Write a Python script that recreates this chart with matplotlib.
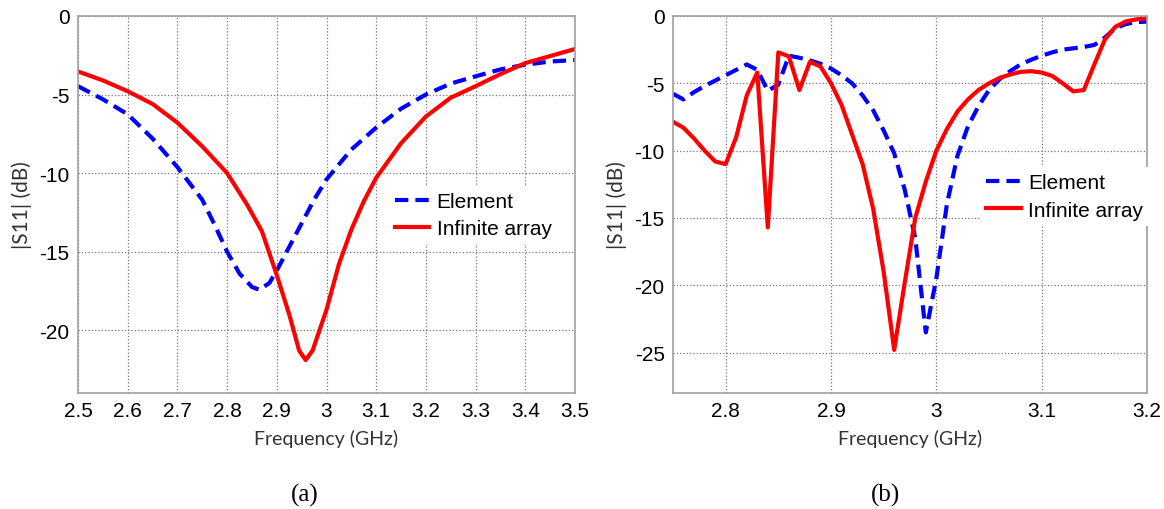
import matplotlib
matplotlib.use("Agg")
import matplotlib.pyplot as plt
from matplotlib.ticker import FormatStrFormatter
import numpy as np

plt.rcParams['axes.unicode_minus'] = False

# ---- panel (a): element vs infinite array, wide band ----
freq_a_elem = [2.5, 2.55, 2.6, 2.65, 2.7, 2.75, 2.775, 2.8, 2.825, 2.85, 2.865,
               2.885, 2.9, 2.925, 2.95, 2.975, 3.0, 3.05, 3.1, 3.15, 3.2, 3.25,
               3.3, 3.35, 3.4, 3.45, 3.5]
s11_a_elem = [-4.47, -5.3, -6.26, -7.8, -9.62, -11.7, -13.3, -15.0, -16.4, -17.25,
              -17.43, -17.0, -16.2, -14.7, -13.2, -11.7, -10.4, -8.5, -7.1, -5.9,
              -5.0, -4.3, -3.84, -3.4, -3.1, -2.9, -2.8]

freq_a_arr = [2.5, 2.55, 2.6, 2.65, 2.7, 2.75, 2.8, 2.84, 2.87, 2.9, 2.925, 2.945,
              2.958, 2.972, 3.0, 3.025, 3.05, 3.075, 3.1, 3.15, 3.2, 3.25, 3.3,
              3.35, 3.4, 3.45, 3.5]
s11_a_arr = [-3.53, -4.1, -4.79, -5.6, -6.79, -8.3, -10.0, -12.0, -13.7, -16.5,
             -19.0, -21.3, -21.9, -21.3, -18.7, -15.8, -13.6, -11.8, -10.3, -8.1,
             -6.4, -5.2, -4.47, -3.7, -3.0, -2.55, -2.1]

# ---- panel (b): narrower band ----
freq_b = [2.75, 2.76, 2.77, 2.78, 2.79, 2.80, 2.81, 2.82, 2.83, 2.84, 2.85, 2.86,
          2.87, 2.88, 2.89, 2.90, 2.91, 2.92, 2.93, 2.94, 2.95, 2.96, 2.97, 2.98,
          2.99, 3.00, 3.01, 3.02, 3.03, 3.04, 3.05, 3.06, 3.07, 3.08, 3.09, 3.10,
          3.11, 3.12, 3.13, 3.14, 3.15, 3.16, 3.17, 3.18, 3.19, 3.20]
s11_b_elem = [-5.78, -6.2, -5.65, -5.2, -4.8, -4.4, -4.0, -3.6, -4.0, -5.55, -5.1,
              -2.95, -3.1, -3.3, -3.55, -3.9, -4.4, -5.0, -5.9, -7.0, -8.5, -10.2,
              -12.9, -16.5, -23.5, -19.5, -14.0, -10.4, -8.2, -6.7, -5.5, -4.7,
              -4.1, -3.6, -3.25, -2.95, -2.7, -2.5, -2.4, -2.3, -2.15, -1.6, -0.9,
              -0.6, -0.45, -0.42]
s11_b_arr = [-7.86, -8.3, -9.1, -10.0, -10.8, -11.0, -9.0, -5.9, -4.2, -15.7, -2.7,
             -3.0, -5.5, -3.4, -3.75, -5.0, -6.6, -8.8, -11.0, -14.3, -19.0, -24.8,
             -19.8, -15.0, -12.3, -10.0, -8.4, -7.1, -6.2, -5.5, -5.0, -4.6, -4.35,
             -4.15, -4.1, -4.2, -4.45, -5.0, -5.6, -5.5, -3.6, -1.75, -0.8, -0.4,
             -0.25, -0.17]

xticks_a = [2.5, 2.6, 2.7, 2.8, 2.9, 3.0, 3.1, 3.2, 3.3, 3.4, 3.5]
yticks_a = [0, -5, -10, -15, -20]
xticks_b = [2.8, 2.9, 3.0, 3.1, 3.2]
yticks_b = [0, -5, -10, -15, -20, -25]

W, H = 1164, 510
fig = plt.figure(figsize=(W / 100, H / 100), dpi=100)

xlabel_font = {'family': 'Lato', 'size': 14, 'color': '#333333'}
ylabel_font = {'family': 'Lato', 'size': 15, 'color': '#333333'}


def style_axes(ax, xlim, ylim, xticks, yticks):
    ax.set_xlim(xlim)
    ax.set_ylim(ylim)
    ax.set_xticks(xticks)
    ax.set_yticks(yticks)
    ax.xaxis.set_major_formatter(FormatStrFormatter('%g'))
    ax.grid(True, linestyle=':', color='#777777', linewidth=0.9)
    for sp in ax.spines.values():
        sp.set_color('#a0a0a0')
        sp.set_linewidth(1.2)
    ax.tick_params(direction='in', length=0, pad=6, labelsize=15)
    for lab in ax.get_xticklabels() + ax.get_yticklabels():
        lab.set_fontfamily('Liberation Sans')
    ax.set_xlabel('Frequency (GHz)', fontdict=xlabel_font, labelpad=6)
    ax.set_ylabel('|S11| (dB)', fontdict=ylabel_font, labelpad=5)


def add_legend(ax, x, y):
    leg = ax.legend(loc='center left', bbox_to_anchor=(x, y),
                    prop={'family': 'Liberation Sans', 'size': 15},
                    handlelength=1.65, handletextpad=0.35, labelspacing=0.4,
                    borderpad=0.3, borderaxespad=0, frameon=True, fancybox=False)
    leg.get_frame().set_facecolor('white')
    leg.get_frame().set_edgecolor('none')
    leg.get_frame().set_alpha(1)


# panel (a)
ax1 = fig.add_axes([78 / W, 1 - 394 / H, (575 - 78) / W, (394 - 17) / H])
ax1.plot(freq_a_elem, s11_a_elem, color='#0000ff', linestyle='--', linewidth=3,
         dashes=(3.2, 1.7), label='Element')
ax1.plot(freq_a_arr, s11_a_arr, color='#ff0000', linewidth=3, label='Infinite array')
style_axes(ax1, (2.5, 3.5), (-24, 0), xticks_a, yticks_a)
add_legend(ax1, 0.625, 0.472)

# panel (b)
ax2 = fig.add_axes([673 / W, 1 - 394 / H, (1147 - 673) / W, (394 - 17) / H])
ax2.plot(freq_b, s11_b_elem, color='#0000ff', linestyle='--', linewidth=3,
         dashes=(3.2, 1.7), label='Element')
ax2.plot(freq_b, s11_b_arr, color='#ff0000', linewidth=3, label='Infinite array')
style_axes(ax2, (2.75, 3.2), (-28, 0), xticks_b, yticks_b)
add_legend(ax2, 0.648, 0.521)

fig.text(305 / W, 1 - 495 / H, '(a)', ha='center', va='center',
         family='Liberation Serif', fontsize=18)
fig.text(885 / W, 1 - 495 / H, '(b)', ha='center', va='center',
         family='Liberation Serif', fontsize=18)

fig.savefig('out.png', dpi=100, facecolor='white')
